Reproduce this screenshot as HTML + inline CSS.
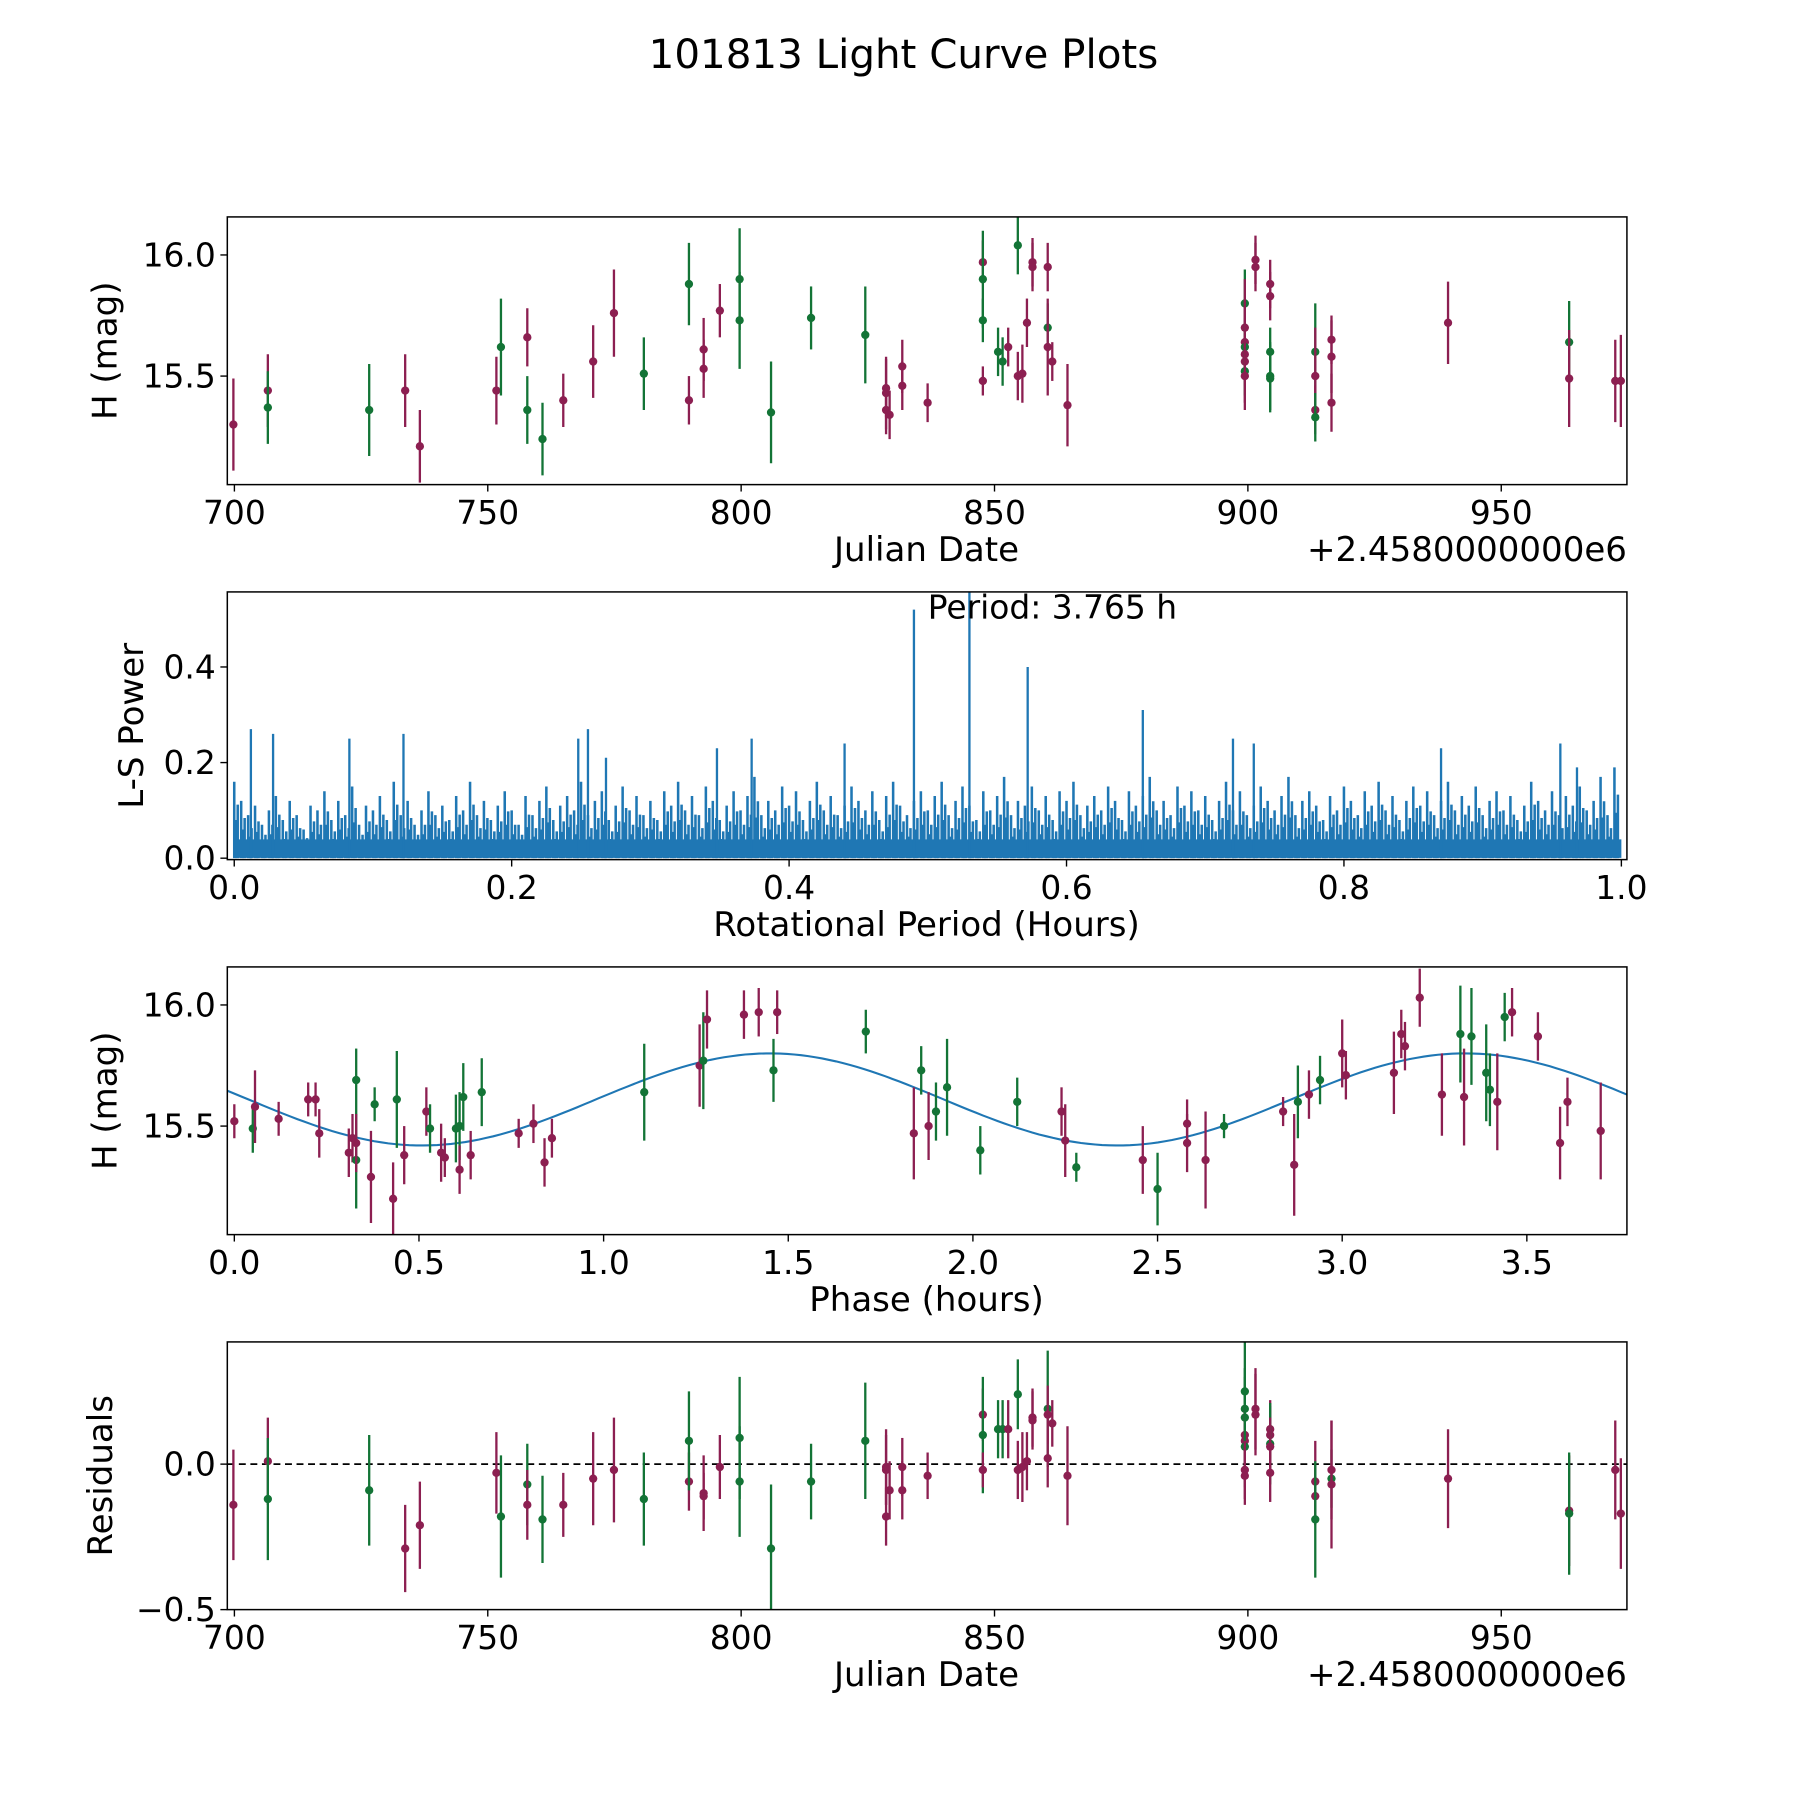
<!DOCTYPE html>
<html><head><meta charset="utf-8"><style>
html,body{margin:0;padding:0;background:#fff;}
svg{display:block;font-family:"DejaVu Sans","Liberation Sans",sans-serif;}
</style></head><body>
<svg id="fig" width="1800" height="1800" viewBox="0 0 1560 1560" xmlns="http://www.w3.org/2000/svg">
<rect width="1560" height="1560" fill="#fff"/>
<text x="783" y="59" font-size="35" text-anchor="middle">101813 Light Curve Plots</text>
<g id="root"></g>
</svg>
<script>
// ---- Panel 1: raw light curve ----
const jd1 = [699.8,706.6,706.6,726.6,733.7,736.6,751.7,752.6,757.8,757.8,
760.8,764.9,770.8,774.9,780.8,789.7,789.7,792.6,792.6,795.8,
799.7,799.7,805.9,813.8,824.5,828.6,828.6,828.6,829.3,831.8,
831.8,836.8,847.7,847.7,847.7,847.7,850.7,851.6,852.7,854.6,
854.6,855.5,856.4,857.5,857.5,860.5,860.5,860.5,861.4,864.4,
899.4,899.4,899.4,899.4,899.4,899.4,899.4,899.4,901.5,901.5,
904.4,904.4,904.4,904.4,904.4,913.3,913.3,913.3,913.3,916.5,
916.5,916.5,939.5,963.4,963.4,972.5,973.6];
const mag1 = [15.30,15.44,15.37,15.36,15.44,15.21,15.44,15.62,15.36,15.66,
15.24,15.40,15.56,15.76,15.51,15.40,15.88,15.61,15.53,15.77,
15.90,15.73,15.35,15.74,15.67,15.43,15.45,15.36,15.34,15.54,
15.46,15.39,15.97,15.90,15.73,15.48,15.60,15.56,15.62,16.04,
15.50,15.51,15.72,15.97,15.95,15.95,15.70,15.62,15.56,15.38,
15.80,15.70,15.64,15.62,15.59,15.56,15.52,15.50,15.98,15.95,
15.88,15.83,15.60,15.50,15.49,15.60,15.50,15.36,15.33,15.65,
15.58,15.39,15.72,15.64,15.49,15.48,15.48];
const err1 = [.19,.15,.15,.19,.15,.15,.14,.20,.14,.12,
.15,.11,.15,.18,.15,.10,.17,.13,.12,.11,
.21,.20,.21,.13,.20,.15,.12,.10,.10,.11,
.10,.08,.09,.20,.09,.06,.10,.10,.08,.12,
.10,.12,.10,.10,.10,.10,.10,.20,.08,.17,
.14,.20,.10,.10,.20,.10,.10,.14,.10,.10,
.10,.10,.10,.14,.14,.20,.20,.10,.10,.10,
.15,.12,.17,.17,.20,.17,.19];
const col1 = "mmggmmmggmgmmmgmgmmmggggg mmmmmmmmggmggmgmmmmmmgmm mgmmgmmgmm mmmggggmmgmmmmgmm".replace(/ /g,"").split("");

// ---- Panel 2: periodogram ----
const lsBase = [0.16,0.12,0.09,0.11,0.07,0.10,0.13,0.08,0.12,0.09,0.06,0.11,0.10,0.14,0.08,0.12,0.09,0.15,0.07,0.11,
0.10,0.13,0.08,0.16,0.09,0.12,0.07,0.10,0.14,0.09,0.11,0.08,0.13,0.10,0.16,0.09,0.12,0.08,0.11,0.14,
0.10,0.07,0.13,0.09,0.12,0.15,0.08,0.11,0.13,0.10,0.16,0.09,0.12,0.14,0.08,0.11,0.15,0.10,0.13,0.09,
0.12,0.08,0.14,0.11,0.16,0.10,0.13,0.09,0.15,0.12,0.08,0.11,0.14,0.10,0.13,0.17,0.09,0.12,0.10,0.15,
0.11,0.14,0.08,0.12,0.16,0.10,0.13,0.09,0.11,0.15,0.12,0.10,0.14,0.08,0.13,0.16,0.11,0.09,0.12,0.14,
0.10,0.13,0.16,0.09,0.12,0.15,0.11,0.08,0.14,0.10,0.13,0.17,0.09,0.12,0.11,0.15,0.10,0.13,0.08,0.14,
0.12,0.16,0.09,0.11,0.13,0.10,0.15,0.12,0.08,0.14,0.11,0.13,0.17,0.10,0.12,0.09,0.15,0.11,0.14,0.10,
0.13,0.08,0.12,0.16,0.10,0.14,0.09,0.11,0.15,0.12,0.10,0.13,0.17,0.09,0.12,0.14,0.11,0.08,0.13,0.10,
0.15,0.12,0.09,0.14,0.11,0.16,0.10,0.13,0.08,0.12,0.15,0.11,0.14,0.09,0.12,0.16,0.10,0.13,0.11,0.15,
0.09,0.12,0.14,0.10,0.13,0.08,0.11,0.16,0.12,0.10,0.14,0.09,0.13,0.11,0.15,0.10,0.12,0.17,0.09,0.19];
const spikeP = [0.012,0.028,0.083,0.122,0.248,0.255,0.268,0.348,0.373,0.44,0.49,0.53,0.572,0.655,0.72,0.735,0.87,0.956,0.968];
const spikeV = [0.27,0.26,0.25,0.26,0.25,0.27,0.21,0.23,0.25,0.24,0.52,0.60,0.40,0.31,0.25,0.24,0.23,0.24,0.19];

// ---- Panel 3: phased curve ----
const ph3 = [0.00,0.05,0.056,0.12,0.20,0.22,0.23,0.31,0.32,0.33,0.33,0.33,0.37,0.38,0.43,0.44,0.46,0.52,0.53,0.56,
0.57,0.60,0.61,0.61,0.62,0.64,0.67,0.77,0.81,0.84,0.86,1.11,1.26,1.27,1.28,1.38,1.42,1.46,1.47,1.71,
1.84,1.86,1.88,1.90,1.93,2.02,2.12,2.24,2.25,2.28,2.46,2.50,2.58,2.58,2.63,2.68,2.84,2.87,2.88,2.91,
2.94,3.00,3.01,3.14,3.16,3.17,3.21,3.27,3.32,3.33,3.35,3.39,3.40,3.42,3.44,3.46,3.53,3.59,3.61,3.70];
const mag3 = [15.52,15.49,15.58,15.53,15.61,15.61,15.47,15.39,15.45,15.69,15.36,15.43,15.29,15.59,15.20,15.61,15.38,15.56,15.49,15.39,
15.37,15.49,15.50,15.32,15.62,15.38,15.64,15.47,15.51,15.35,15.45,15.64,15.75,15.77,15.94,15.96,15.97,15.73,15.97,15.89,
15.47,15.73,15.50,15.56,15.66,15.40,15.60,15.56,15.44,15.33,15.36,15.24,15.43,15.51,15.36,15.50,15.56,15.34,15.60,15.63,
15.69,15.80,15.71,15.72,15.88,15.83,16.03,15.63,15.88,15.62,15.87,15.72,15.65,15.60,15.95,15.97,15.87,15.43,15.60,15.48];
const err3 = [.07,.10,.15,.07,.07,.07,.10,.10,.10,.13,.20,.12,.19,.07,.15,.20,.12,.10,.10,.12,
.08,.14,.14,.10,.14,.10,.14,.06,.08,.10,.08,.20,.17,.20,.12,.10,.10,.13,.09,.09,
.19,.10,.14,.12,.20,.10,.10,.10,.15,.06,.14,.15,.12,.10,.20,.05,.06,.21,.15,.10,
.10,.14,.10,.17,.10,.10,.12,.17,.20,.20,.20,.20,.15,.20,.10,.10,.10,.15,.10,.20];
const col3 = "mgmmmmmmmgg mmgmgmmgmmggmgm gmmmmgmgmmmgmg mgmggggmmgm gmmmgmmgmgmmmmmmmgmgggmgmmmmmg".replace(/ /g,"").split("");
const fitMean = 15.61, fitAmp = 0.19, fitPeak = 1.45, fitPeriod = 1.8825;

// ---- Panel 4: residuals ----
const jd4 = [699.8,706.6,706.6,726.6,733.7,736.6,751.7,752.6,757.8,757.8,
760.8,764.9,770.8,774.9,780.8,789.7,789.7,792.6,792.6,795.8,
799.7,799.7,805.9,813.8,824.5,828.6,828.6,828.6,829.3,831.8,
831.8,836.8,847.7,847.7,847.7,850.7,851.6,852.7,854.6,854.6,
855.5,856.4,857.5,857.5,860.5,860.5,860.5,861.4,864.4,
899.4,899.4,899.4,899.4,899.4,899.4,899.4,899.4,901.5,901.5,
904.4,904.4,904.4,904.4,904.4,913.3,913.3,913.3,916.5,916.5,916.5,
939.5,963.4,963.4,972.5,973.6];
const res4 = [-0.14,0.01,-0.12,-0.09,-0.29,-0.21,-0.03,-0.18,-0.07,-0.14,
-0.19,-0.14,-0.05,-0.02,-0.12,-0.06,0.08,-0.10,-0.11,-0.01,
0.09,-0.06,-0.29,-0.06,0.08,-0.01,-0.02,-0.18,-0.09,-0.01,
-0.09,-0.04,0.17,0.10,-0.02,0.12,0.12,0.12,0.24,-0.02,
-0.01,0.01,0.16,0.15,0.19,0.02,0.17,0.14,-0.04,
0.25,0.19,0.16,0.10,0.08,0.06,-0.02,-0.04,0.19,0.17,
0.12,0.10,0.07,0.06,-0.03,-0.06,-0.11,-0.19,-0.05,-0.07,-0.02,
-0.05,-0.16,-0.17,-0.02,-0.17];
const err4 = [.19,.15,.21,.19,.15,.15,.14,.21,.14,.12,
.15,.11,.16,.18,.16,.10,.17,.13,.08,.11,
.21,.19,.22,.13,.20,.13,.12,.10,.10,.10,
.10,.08,.09,.20,.06,.10,.10,.10,.12,.10,
.12,.10,.10,.10,.20,.10,.10,.08,.17,
.20,.14,.14,.10,.10,.14,.10,.10,.14,.14,
.10,.10,.14,.10,.10,.14,.10,.20,.10,.22,.17,
.17,.19,.21,.17,.19];
const col4 = "mmggmmmggmgmmmgmgmmmggggg mmmmmmmmgmggmgm mmmmgmmmm gggmmgmmmm mmgmm mmg gmm mmgmm".replace(/ /g,"").split("");

const NS="http://www.w3.org/2000/svg";
const root=document.getElementById('root');
const COLOR={m:'#8c1f51',g:'#137436'};
function el(tag,attrs,parent){const e=document.createElementNS(NS,tag);for(const k in attrs)e.setAttribute(k,attrs[k]);(parent||root).appendChild(e);return e;}
function txt(s,attrs,parent){const t=el('text',attrs,parent);t.textContent=s;return t;}

const L=197,R=1410;
function panel(name,top,bot,xmin,xmax,ymin,ymax){
  const g=el('g',{});
  
  
  const cid='clip-'+name;
  const cp=el('clipPath',{id:cid},g);el('rect',{x:L,y:top,width:R-L,height:bot-top},cp);
  const plot=el('g',{'clip-path':'url(#'+cid+')'},g);
  
  
  return {g,plot,top,bot,
    x:v=>L+(v-xmin)/(xmax-xmin)*(R-L),
    y:v=>bot-(v-ymin)/(ymax-ymin)*(bot-top)};
}
function frame(p){
  const f=el('rect',{x:L,y:p.top,width:R-L,height:p.bot-p.top,fill:'none',stroke:'#000','stroke-width':1.3},p.g);
  
  
}
function xticks(p,vals,labels){
  vals.forEach((v,i)=>{const x=p.x(v);
    el('line',{x1:x,x2:x,y1:p.bot,y2:p.bot+6,stroke:'#000','stroke-width':1.2},p.g);
    const t=txt(labels[i],{x:x,y:p.bot+34,'font-size':28.5,'text-anchor':'middle'},p.g);
    
    });
}
function yticks(p,vals,labels){
  vals.forEach((v,i)=>{const y=p.y(v);
    el('line',{x1:L-6,x2:L,y1:y,y2:y,stroke:'#000','stroke-width':1.2},p.g);
    const t=txt(labels[i],{x:L-10,y:y+10,'font-size':28.5,'text-anchor':'end'},p.g);
    
    });
}
function ylabel(p,s,x){
  const cy=(p.top+p.bot)/2;
  const t=txt(s,{x:x,y:cy,'font-size':29.5,'text-anchor':'middle',transform:'rotate(-90 '+x+' '+cy+')'},p.g);
  
  
}
function xlabel(p,s){
  const t=txt(s,{x:803,y:p.bot+66,'font-size':29.5,'text-anchor':'middle'},p.g);
  
  
}
function offset(p){
  const t=txt('+2.4580000000e6',{x:R,y:p.bot+66,'font-size':29.5,'text-anchor':'end'},p.g);
  
  
}
function errpts(p,xs,ys,es,cs){
  xs.forEach((v,i)=>{const c=COLOR[cs[i]]||COLOR.m;const x=p.x(v);
    const ln=el('line',{x1:x,x2:x,y1:p.y(ys[i]-es[i]),y2:p.y(ys[i]+es[i]),stroke:c,'stroke-width':2},p.plot);
    
    
    const d=el('circle',{cx:x,cy:p.y(ys[i]),r:3.6,fill:c},p.plot);
    
    });
}

// Panel 1
const p1=panel('raw-light-curve',188,420,698.6,974.8,15.052,16.157);
errpts(p1,jd1,mag1,err1,col1);
frame(p1);
xticks(p1,[700,750,800,850,900,950],['700','750','800','850','900','950']);
yticks(p1,[15.5,16.0],['15.5','16.0']);
ylabel(p1,'H (mag)',101);xlabel(p1,'Julian Date');offset(p1);

// Panel 2
const p2=panel('periodogram',513,745,-0.005,1.004,-0.003,0.557);
lsBase.forEach((v,i)=>{const x=p2.x(i*0.005);
  const ln=el('line',{x1:x,x2:x,y1:p2.y(0),y2:p2.y(v),stroke:'#1f77b4','stroke-width':2.2},p2.plot);
  
  
  const x2=p2.x(i*0.005+0.0025);
  const ln2=el('line',{x1:x2,x2:x2,y1:p2.y(0),y2:p2.y(v*0.7),stroke:'#1f77b4','stroke-width':2.2},p2.plot);
  
  
  const x3=p2.x(i*0.005+0.00125);
  const ln3=el('line',{x1:x3,x2:x3,y1:p2.y(0),y2:p2.y(v*0.5),stroke:'#1f77b4','stroke-width':1.6},p2.plot);
  
  });
el('line',{x1:p2.x(0),x2:p2.x(1),y1:p2.y(0.02),y2:p2.y(0.02),stroke:'#1f77b4','stroke-width':16},p2.plot);
spikeP.forEach((v,i)=>{const x=p2.x(v);
  const ln=el('line',{x1:x,x2:x,y1:p2.y(0),y2:p2.y(spikeV[i]),stroke:'#1f77b4','stroke-width':2},p2.plot);
  
  });
frame(p2);
xticks(p2,[0,0.2,0.4,0.6,0.8,1.0],['0.0','0.2','0.4','0.6','0.8','1.0']);
yticks(p2,[0,0.2,0.4],['0.0','0.2','0.4']);
ylabel(p2,'L-S Power',124);xlabel(p2,'Rotational Period (Hours)');
{const t=txt('Period: 3.765 h',{x:804,y:536,'font-size':28.5},p2.g);

}

// Panel 3
const p3=panel('phased-light-curve',838,1070,-0.019,3.771,15.052,16.157);
{let d='';for(let k=0;k<=200;k++){const ph=-0.019+k*(3.79/200);
  const m=fitMean+fitAmp*Math.cos(2*Math.PI*(ph-fitPeak)/fitPeriod);
  d+=(k?'L':'M')+p3.x(ph).toFixed(1)+','+p3.y(m).toFixed(1);}
 const c=el('path',{d:d,fill:'none',stroke:'#1f77b4','stroke-width':1.8},p3.plot);
 
 }
errpts(p3,ph3,mag3,err3,col3);
frame(p3);
xticks(p3,[0,0.5,1,1.5,2,2.5,3,3.5],['0.0','0.5','1.0','1.5','2.0','2.5','3.0','3.5']);
yticks(p3,[15.5,16.0],['15.5','16.0']);
ylabel(p3,'H (mag)',101);xlabel(p3,'Phase (hours)');

// Panel 4
const p4=panel('residuals',1163,1395,698.6,974.8,-0.5,0.42);
{const z=el('line',{x1:L,x2:R,y1:p4.y(0),y2:p4.y(0),stroke:'#000','stroke-width':1.5,'stroke-dasharray':'6,4'},p4.plot);

}
errpts(p4,jd4,res4,err4,col4);
frame(p4);
xticks(p4,[700,750,800,850,900,950],['700','750','800','850','900','950']);
yticks(p4,[-0.5,0],['\u22120.5','0.0']);
ylabel(p4,'Residuals',97);xlabel(p4,'Julian Date');offset(p4);
</script>
</body></html>
